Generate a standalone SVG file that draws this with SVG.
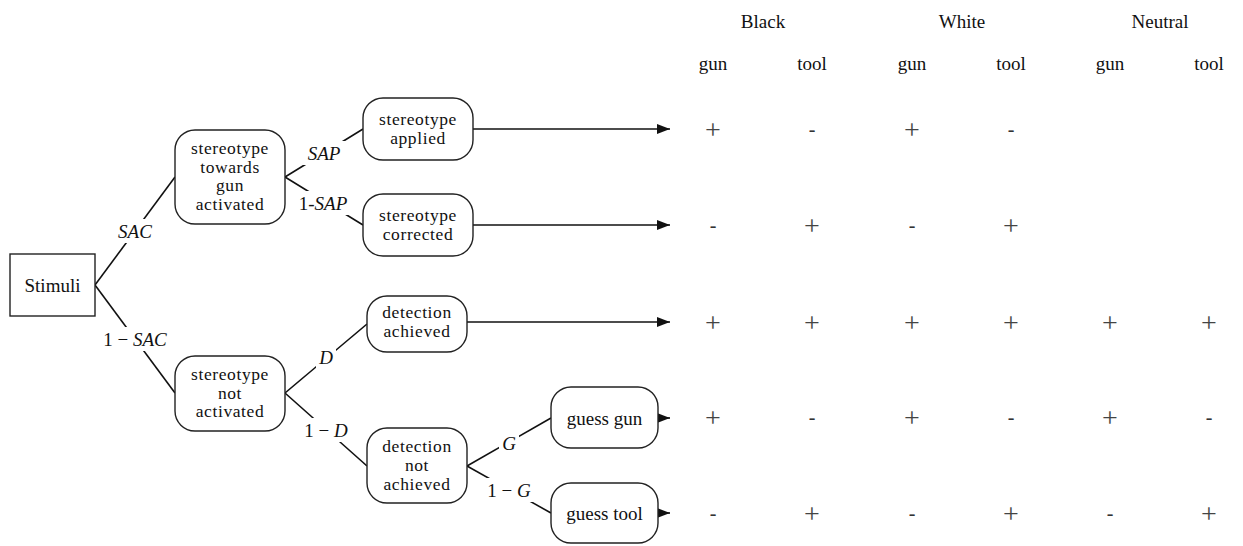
<svg xmlns="http://www.w3.org/2000/svg" width="1243" height="546" viewBox="0 0 1243 546" font-family="'Liberation Serif', 'DejaVu Serif', serif">
<style>
text{font-family:"Liberation Serif","DejaVu Serif",serif;font-size:19px;fill:#111;text-anchor:middle;dominant-baseline:central}
.nt{font-size:17.5px;letter-spacing:0.6px}
.box{fill:#fff;stroke:#222;stroke-width:1.4}
.edge{stroke:#111;stroke-width:1.6;fill:none}
.bg{fill:#fff;stroke:none}
.it{font-style:italic}
.cell{fill:#444;font-size:28px}
.dash{fill:#333;font-size:20px}
</style>
<defs>
<marker id="ah" markerUnits="userSpaceOnUse" markerWidth="13" markerHeight="10" refX="13" refY="5" orient="auto">
<path d="M0,0 L13,5 L0,10 Z" fill="#111"/>
</marker>
</defs>
<g id="connectors">
<line class="edge" x1="95" y1="285" x2="175" y2="177"/>
<line class="edge" x1="95" y1="285" x2="175" y2="393"/>
<line class="edge" x1="285" y1="177" x2="363" y2="129"/>
<line class="edge" x1="285" y1="177" x2="363" y2="225"/>
<line class="edge" x1="285" y1="393" x2="367" y2="324"/>
<line class="edge" x1="285" y1="393" x2="367" y2="466"/>
<line class="edge" x1="467" y1="466" x2="551" y2="418"/>
<line class="edge" x1="467" y1="466" x2="551" y2="513"/>
<line class="edge" x1="473" y1="129" x2="670" y2="129" marker-end="url(#ah)"/>
<line class="edge" x1="473" y1="225" x2="670" y2="225" marker-end="url(#ah)"/>
<line class="edge" x1="467" y1="322" x2="670" y2="322" marker-end="url(#ah)"/>
<line class="edge" x1="658" y1="418" x2="670" y2="418" marker-end="url(#ah)"/>
<line class="edge" x1="658" y1="513" x2="670" y2="513" marker-end="url(#ah)"/>
<rect class="bg" x="112" y="219" width="46" height="24"/>
<rect class="bg" x="95" y="327" width="80" height="24"/>
<rect class="bg" x="302" y="141" width="44" height="24"/>
<rect class="bg" x="296" y="191" width="56" height="24"/>
<rect class="bg" x="316" y="345" width="20" height="24"/>
<rect class="bg" x="300" y="418" width="52" height="24"/>
<rect class="bg" x="499" y="431" width="20" height="24"/>
<rect class="bg" x="483" y="478" width="52" height="24"/>
<text class="it" x="135" y="231">SAC</text>
<text x="135" y="339">1 − <tspan class="it">SAC</tspan></text>
<text class="it" x="324" y="153">SAP</text>
<text x="323" y="203">1-<tspan class="it">SAP</tspan></text>
<text class="it" x="326" y="357">D</text>
<text x="326" y="430">1 − <tspan class="it">D</tspan></text>
<text class="it" x="509" y="443">G</text>
<text x="509" y="490">1 − <tspan class="it">G</tspan></text>
</g>
<g id="stimuli">
<rect class="box" x="10" y="254" width="85" height="62"/>
<text x="52.5" y="285">Stimuli</text>
</g>
<g id="stereotype-activated">
<rect class="box" x="175" y="130" width="110" height="94" rx="20"/>
<text class="nt" x="230" y="148">stereotype</text>
<text class="nt" x="230" y="167">towards</text>
<text class="nt" x="230" y="185">gun</text>
<text class="nt" x="230" y="204">activated</text>
</g>
<g id="stereotype-not-activated">
<rect class="box" x="175" y="356" width="110" height="75" rx="20"/>
<text class="nt" x="230" y="374">stereotype</text>
<text class="nt" x="230" y="393">not</text>
<text class="nt" x="230" y="411">activated</text>
</g>
<g id="stereotype-applied">
<rect class="box" x="363" y="98" width="110" height="62" rx="20"/>
<text class="nt" x="418" y="119">stereotype</text>
<text class="nt" x="418" y="138">applied</text>
</g>
<g id="stereotype-corrected">
<rect class="box" x="363" y="194" width="110" height="62" rx="20"/>
<text class="nt" x="418" y="215">stereotype</text>
<text class="nt" x="418" y="234">corrected</text>
</g>
<g id="detection-achieved">
<rect class="box" x="367" y="296" width="100" height="56" rx="20"/>
<text class="nt" x="417" y="312">detection</text>
<text class="nt" x="417" y="331">achieved</text>
</g>
<g id="detection-not-achieved">
<rect class="box" x="367" y="428" width="100" height="75" rx="20"/>
<text class="nt" x="417" y="446">detection</text>
<text class="nt" x="417" y="465">not</text>
<text class="nt" x="417" y="484">achieved</text>
</g>
<g id="guess-gun">
<rect class="box" x="551" y="387" width="107" height="61" rx="20"/>
<text x="604.5" y="418">guess gun</text>
</g>
<g id="guess-tool">
<rect class="box" x="551" y="483" width="107" height="60" rx="20"/>
<text x="604.5" y="513">guess tool</text>
</g>
<g id="table">
<text x="763" y="21">Black</text>
<text x="962" y="21">White</text>
<text x="1160" y="21">Neutral</text>
<text x="713" y="63">gun</text>
<text x="812" y="63">tool</text>
<text x="912" y="63">gun</text>
<text x="1011" y="63">tool</text>
<text x="1110" y="63">gun</text>
<text x="1209" y="63">tool</text>
<text class="cell" x="713" y="129">+</text>
<text class="dash" x="812" y="129">-</text>
<text class="cell" x="912" y="129">+</text>
<text class="dash" x="1011" y="129">-</text>
<text class="dash" x="713" y="225">-</text>
<text class="cell" x="812" y="225">+</text>
<text class="dash" x="912" y="225">-</text>
<text class="cell" x="1011" y="225">+</text>
<text class="cell" x="713" y="322">+</text>
<text class="cell" x="812" y="322">+</text>
<text class="cell" x="912" y="322">+</text>
<text class="cell" x="1011" y="322">+</text>
<text class="cell" x="1110" y="322">+</text>
<text class="cell" x="1209" y="322">+</text>
<text class="cell" x="713" y="417">+</text>
<text class="dash" x="812" y="417">-</text>
<text class="cell" x="912" y="417">+</text>
<text class="dash" x="1011" y="417">-</text>
<text class="cell" x="1110" y="417">+</text>
<text class="dash" x="1209" y="417">-</text>
<text class="dash" x="713" y="513">-</text>
<text class="cell" x="812" y="513">+</text>
<text class="dash" x="912" y="513">-</text>
<text class="cell" x="1011" y="513">+</text>
<text class="dash" x="1110" y="513">-</text>
<text class="cell" x="1209" y="513">+</text>
</g>
</svg>
